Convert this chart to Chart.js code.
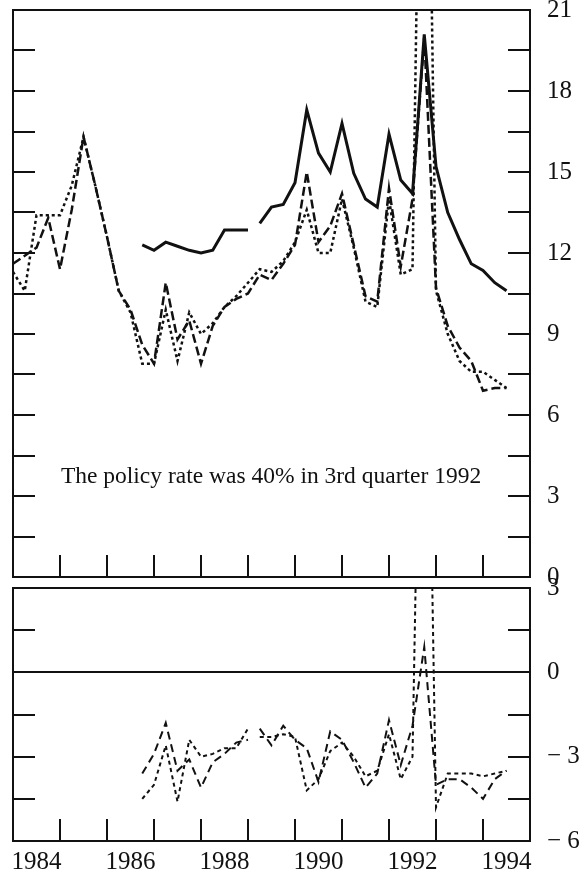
<!DOCTYPE html>
<html>
<head>
<meta charset="utf-8">
<script src="https://cdn.jsdelivr.net/npm/chart.js@4.4.1/dist/chart.umd.min.js"></script>
<style>
  html, body { margin: 0; padding: 0; background: #fff; }
  #wrap { position: relative; width: 585px; height: 879px; }
  canvas { position: absolute; left: 0; top: 0; }
</style>
</head>
<body>
<div id="wrap">
  <canvas id="topChart" width="585" height="879"></canvas>
  <canvas id="bottomChart" width="585" height="879"></canvas>
</div>
<script>
// quarterly observations, plotted at the end of each quarter
const quarters = [
  '1983Q4',
  '1984Q1', '1984Q2', '1984Q3', '1984Q4',
  '1985Q1', '1985Q2', '1985Q3', '1985Q4',
  '1986Q1', '1986Q2', '1986Q3', '1986Q4',
  '1987Q1', '1987Q2', '1987Q3', '1987Q4',
  '1988Q1', '1988Q2', '1988Q3', '1988Q4',
  '1989Q1', '1989Q2', '1989Q3', '1989Q4',
  '1990Q1', '1990Q2', '1990Q3', '1990Q4',
  '1991Q1', '1991Q2', '1991Q3', '1991Q4',
  '1992Q1', '1992Q2', '1992Q3', '1992Q4',
  '1993Q1', '1993Q2', '1993Q3', '1993Q4',
  '1994Q1', '1994Q2'
];

// top panel (per cent)
const longRate = [
  null, null, null, null, null, null, null, null, null, null, null,
  12.3, 12.1, 12.4, 12.25, 12.1, 12.0, 12.1, 12.85, 12.85, 12.85,
  13.1, 13.7, 13.8, 14.6, 17.3, 15.7, 15.0, 16.8, 14.95, 14.0, 13.7,
  16.4, 14.7, 14.2, 20.1, 15.2, 13.5, 12.5, 11.6, 11.35, 10.9, 10.6
];
const shortRate = [
  11.6, 11.9, 12.2, 13.3, 11.4, 13.6, 16.3, 14.5, 12.6, 10.6, 9.9,
  8.6, 7.9, 10.9, 8.8, 9.5, 7.9, 9.3, 10.0, 10.3, 10.5,
  11.2, 11.0, 11.6, 12.3, 15.0, 12.4, 13.0, 14.2, 12.3, 10.4, 10.2,
  14.4, 11.5, 14.0, 20.0, 10.7, 9.3, 8.5, 8.0, 6.9, 7.0, 7.0
];
const policyRate = [
  11.3, 10.6, 13.4, 13.4, 13.4, 14.5, 16.3, 14.5, 12.6, 10.6, 9.8,
  7.9, 7.9, 9.9, 8.0, 9.8, 9.0, 9.4, 10.0, 10.4, 10.9,
  11.4, 11.3, 11.7, 12.4, 13.6, 12.0, 12.0, 14.0, 12.2, 10.2, 10.0,
  14.0, 11.2, 11.4, 40.0, 10.6, 9.0, 8.0, 7.6, 7.6, 7.3, 7.0
];

// bottom panel (percentage points)
const spreadShort = [
  null, null, null, null, null, null, null, null, null, null, null,
  -3.6, -2.9, -1.8, -3.5, -3.1, -4.1, -3.2, -2.9, -2.5, -2.4,
  -2.0, -2.6, -1.9, -2.4, -2.7, -3.9, -2.1, -2.4, -3.2, -4.1, -3.6,
  -1.7, -3.3, -1.9, 0.9, -4.0, -3.8, -3.8, -4.1, -4.5, -3.8, -3.5
];
const spreadPolicy = [
  null, null, null, null, null, null, null, null, null, null, null,
  -4.5, -4.0, -2.6, -4.6, -2.4, -3.0, -2.9, -2.7, -2.7, -2.0,
  -2.3, -2.3, -2.2, -2.3, -4.2, -3.8, -2.8, -2.5, -3.0, -3.7, -3.5,
  -2.2, -3.8, -3.0, 20.0, -4.8, -3.6, -3.6, -3.6, -3.7, -3.6, -3.5
];
// the long-rate based series are broken after this quarter
const gapAfter = '1988Q4';

const yearLabels = ['1984', '1986', '1988', '1990', '1992', '1994'];
const topTickValues = [0, 3, 6, 9, 12, 15, 18, 21];
const bottomTickValues = [-6, -3, 0, 3];
const bottomTickLabels = ['\u2212 6', '\u2212 3', '0', '3'];

const noteText = 'The policy rate was 40% in 3rd quarter 1992';
const noteAt = { x: 1989.49, y: 3.7 };

const FONT = '"Liberation Serif", "Times New Roman", serif';
const INK = '#111';
Chart.defaults.font.family = FONT;
Chart.defaults.color = INK;

const quarterPos = q => {
  const [y, n] = q.split('Q');
  return Number(y) + Number(n) / 4;
};
const points = values => quarters.map((q, i) => ({ x: quarterPos(q), y: values[i] }));
const gapIndex = quarters.indexOf(gapAfter);
const gapSegment = {
  borderColor: ctx => (ctx.p0DataIndex === gapIndex ? 'rgba(0,0,0,0)' : undefined)
};

const lineSet = (values, width, dash, withGap) => ({
  data: points(values),
  xAxisID: 'x',
  yAxisID: 'yRight',
  borderColor: INK,
  borderWidth: width,
  borderDash: dash,
  pointRadius: 0,
  tension: 0,
  fill: false,
  spanGaps: false,
  segment: withGap ? gapSegment : undefined
});

const edge = { display: true, color: INK, width: 2 };
const inTicks = { display: true, drawOnChartArea: false, drawTicks: true, tickLength: -22, color: INK, lineWidth: 2 };
const noTicks = { display: false };

// fixed box sizes so that both panels line up like the printed figure
const sizeV = w => s => { s.width = w; s.paddingTop = 0; s.paddingBottom = 0; };
const sizeH = h => s => { s.height = h; s.paddingLeft = 0; s.paddingRight = 0; };

const xRange = { type: 'linear', min: 1984, max: 1995 };

const common = {
  responsive: false,
  animation: false,
  events: [],
  plugins: { legend: { display: false }, tooltip: { enabled: false } },
  layout: { padding: 0 }
};

const notePlugin = {
  id: 'note',
  afterDatasetsDraw(chart) {
    const { ctx, scales } = chart;
    ctx.save();
    ctx.fillStyle = INK;
    ctx.font = '23.5px ' + FONT;
    ctx.textAlign = 'center';
    ctx.textBaseline = 'middle';
    ctx.fillText(noteText, scales.x.getPixelForValue(noteAt.x), scales.yRight.getPixelForValue(noteAt.y));
    ctx.restore();
  }
};

new Chart(document.getElementById('topChart'), {
  type: 'line',
  data: {
    datasets: [
      lineSet(longRate, 3, [], true),
      lineSet(shortRate, 2.5, [9, 4], false),
      lineSet(policyRate, 2.5, [3, 3], false)
    ]
  },
  options: {
    ...common,
    scales: {
      x: { ...xRange, position: 'bottom', grid: inTicks, border: edge,
        ticks: { display: false, stepSize: 1, autoSkip: false },
        afterFit: sizeH(879 - 577) },
      xTop: { ...xRange, position: 'top', grid: noTicks, ticks: { display: false }, border: edge,
        afterFit: sizeH(10) },
      yRight: { type: 'linear', position: 'right', min: 0, max: 21, grid: inTicks, border: edge,
        ticks: {
          stepSize: 1.5, autoSkip: false, padding: 39,
          font: { size: 25 },
          callback: v => (topTickValues.includes(v) ? String(v) : '')
        },
        afterFit: sizeV(585 - 530) },
      yLeft: { type: 'linear', position: 'left', min: 0, max: 21, grid: inTicks, border: edge,
        ticks: { display: false, stepSize: 1.5, autoSkip: false },
        afterFit: sizeV(13) }
    }
  },
  plugins: [notePlugin]
});

new Chart(document.getElementById('bottomChart'), {
  type: 'line',
  data: {
    datasets: [
      lineSet(spreadShort, 2, [8, 5], true),
      lineSet(spreadPolicy, 2, [4, 3.5], true)
    ]
  },
  options: {
    ...common,
    scales: {
      x: { ...xRange, position: 'bottom', grid: inTicks, border: edge,
        ticks: {
          stepSize: 1, autoSkip: false, maxRotation: 0, padding: 28, labelOffset: 23.5,
          font: { size: 25 },
          callback: v => (yearLabels.includes(String(v)) ? String(v) : '')
        },
        afterFit: sizeH(879 - 841) },
      xTop: { ...xRange, position: 'top', grid: noTicks, ticks: { display: false }, border: edge,
        afterFit: sizeH(588) },
      yRight: { type: 'linear', position: 'right', min: -6, max: 3, border: edge,
        grid: {
          ...inTicks, drawOnChartArea: true, tickColor: INK,
          color: c => (c.tick && c.tick.value === 0 ? INK : 'rgba(0,0,0,0)')
        },
        ticks: {
          stepSize: 1.5, autoSkip: false, padding: 39,
          font: { size: 25 },
          callback: v => {
            const k = bottomTickValues.indexOf(v);
            return k < 0 ? '' : bottomTickLabels[k];
          }
        },
        afterFit: sizeV(585 - 530) },
      yLeft: { type: 'linear', position: 'left', min: -6, max: 3, grid: inTicks, border: edge,
        ticks: { display: false, stepSize: 1.5, autoSkip: false },
        afterFit: sizeV(13) }
    }
  }
});
</script>
</body>
</html>
